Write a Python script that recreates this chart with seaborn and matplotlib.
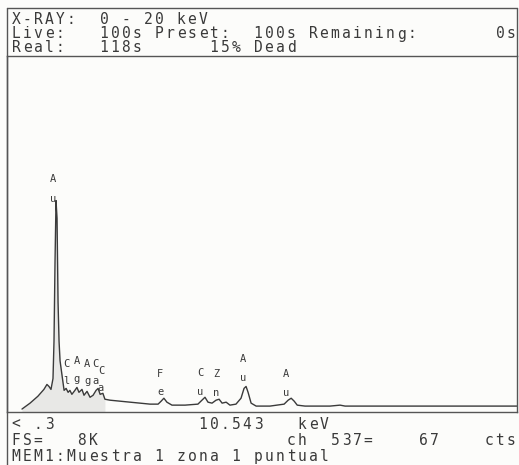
import seaborn as sns
import matplotlib.pyplot as plt
from matplotlib.lines import Line2D

sns.set_theme(style="white")
plt.rcParams['font.family'] = ['DejaVu Sans Mono', 'DejaVu Sans']

# spectrum (keV, counts)
energy_kev = [0.77, 1.09, 1.40, 1.64, 1.76, 1.84, 1.92, 2.00, 2.04, 2.08, 2.12, 2.16,
              2.20, 2.24, 2.28, 2.36, 2.44, 2.52, 2.60, 2.67, 2.75, 2.87, 2.95, 3.03,
              3.15, 3.23, 3.35, 3.47, 3.59, 3.71, 3.79, 3.87, 3.98, 4.06, 4.26, 4.66,
              5.06, 5.45, 5.85, 6.17, 6.29, 6.40, 6.52, 6.72, 7.24, 7.75, 7.91, 8.03,
              8.15, 8.31, 8.47, 8.59, 8.71, 8.87, 9.02, 9.26, 9.46, 9.58, 9.66, 9.74,
              9.86, 10.06, 10.61, 11.17, 11.33, 11.45, 11.57, 11.69, 12.00, 12.99, 13.39,
              13.59, 15.77, 20.48]
counts = [68, 204, 362, 520, 634, 588, 520, 770, 1629, 3440, 4865, 4458,
          2535, 1629, 1177, 837, 498, 543, 453, 498, 407, 498, 566, 453,
          520, 385, 475, 339, 385, 498, 543, 407, 430, 294, 272, 249,
          226, 204, 181, 181, 249, 317, 226, 158, 158, 181, 272, 339,
          226, 204, 272, 294, 204, 226, 158, 181, 317, 543, 588, 453,
          204, 136, 136, 181, 272, 317, 249, 158, 136, 136, 158,
          136, 136, 136]

# element markers, written as two stacked letters
label_top = ["A", "C", "A", "A", "C", "C", "F", "C", "Z", "A", "A"]
label_bot = ["u", "l", "g", "g", "a", "a", "e", "u", "n", "u", "u"]
label_kev = [2.00, 2.52, 2.95, 3.35, 3.67, 3.90, 6.25, 7.83, 8.47, 9.54, 11.25]
label_top_cts = [5363, 1109, 1177, 1109, 1109, 950, 883, 905, 883, 1222, 883]
label_bot_cts = [4911, 724, 769, 724, 724, 543, 453, 453, 430, 792, 430]

header_rows = ["X-RAY:  0 - 20 keV",
               "Live:   100s Preset:  100s Remaining:       0s",
               "Real:   118s      15% Dead"]
footer_rows = ["< .3             10.543   keV",
               "FS=   8K                 ch  537=    67    cts",
               "MEM1:Muestra 1 zona 1 puntual"]

W, H = 519, 465
INK = "#3a3a3a"
fig = plt.figure(figsize=(W / 100, H / 100), dpi=100, facecolor="#fcfcfa")

# spectrum window, pixel box 7..517 x 56..412
ax = fig.add_axes([7 / W, 1 - 412 / H, 510 / W, 356 / H])
ax.set_facecolor("#fcfcfa")
sns.lineplot(x=energy_kev, y=counts, ax=ax, color=INK, linewidth=1.0,
             estimator=None, sort=False)
left_e = [e for e in energy_kev if e <= 4.1]
ax.fill_between(left_e, counts[:len(left_e)], color="#e8e8e6", linewidth=0)
for t, b, e, yt, yb in zip(label_top, label_bot, label_kev, label_top_cts, label_bot_cts):
    ax.text(e, yt, t, fontsize=7.5, color=INK, ha="center", va="center")
    ax.text(e, yb, b, fontsize=7.5, color=INK, ha="center", va="center")
ax.set_xlim(0.175, 20.41)
ax.set_ylim(0, 8192)
ax.set_xticks([])
ax.set_yticks([])
ax.set_xlabel("")
ax.set_ylabel("")
for s in ax.spines.values():
    s.set_color("#555555")
    s.set_linewidth(1.0)

# header box lines
fig.add_artist(Line2D([7 / W, 517 / W], [1 - 8 / H, 1 - 8 / H], color="#555555", lw=1.0))
fig.add_artist(Line2D([7 / W, 7 / W], [1 - 8 / H, 0], color="#555555", lw=1.0))
fig.add_artist(Line2D([517 / W, 517 / W], [1 - 8 / H, 1 - 56 / H], color="#555555", lw=1.0))

X0, PITCH = 10.5, 11.0


def put_row(s, y):
    for i, ch in enumerate(s):
        if ch != " ":
            fig.text((X0 + i * PITCH + PITCH / 2) / W, 1 - y / H, ch, fontsize=10.5,
                     color=INK, ha="center", va="center")


for s, y in zip(header_rows, [19, 34, 48]):
    put_row(s, y)
for s, y in zip(footer_rows, [424, 440, 456]):
    put_row(s, y)

fig.savefig("out.png", dpi=100, facecolor=fig.get_facecolor())
